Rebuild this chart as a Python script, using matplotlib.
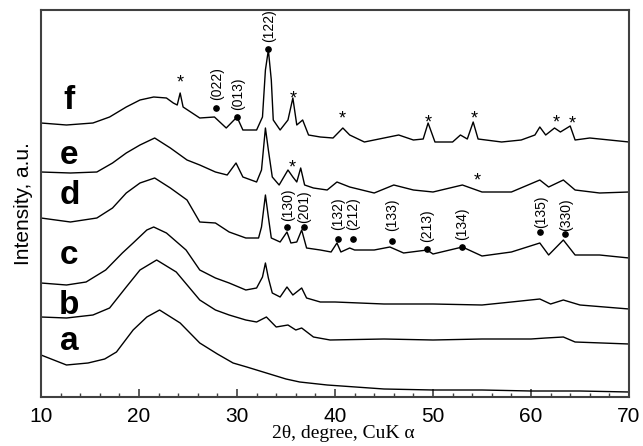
import matplotlib
matplotlib.use("Agg")
import matplotlib.pyplot as plt
from matplotlib.ticker import MultipleLocator

# XRD patterns (intensity in arbitrary units)
tt_a = [10, 12.6, 14.8, 16.5, 17.7, 19.4, 20.8, 22.1, 24.2, 26.2, 28, 29.6, 31, 33, 35,
        36.4, 39.2, 45, 50, 55, 60, 65, 70]
I_a = [42, 32, 34, 38, 45, 67, 80, 87, 74, 54, 43, 34, 30, 24, 18,
       15, 12, 8, 7, 7, 6, 6, 5]

tt_b = [10, 12.6, 15.3, 17.0, 18.7, 20.1, 21.8, 23.8, 26.2, 27.8, 29.2, 30.9, 32.0, 33.0,
        34.0, 35.2, 36.0, 36.6, 37.8, 39.5, 45, 50, 55, 60, 61.5, 63.3, 64.5, 70]
I_b = [80, 79, 82, 89, 110, 127, 137, 125, 97, 87, 82, 77, 75, 80,
       70, 72, 67, 69, 60, 57, 58, 57, 58, 58, 59, 60, 55, 53]

tt_c = [10, 12.6, 14.6, 16.6, 18.3, 19.4, 20.8, 21.5, 22.8, 24.8, 26.2, 27.8, 29.2, 30.9,
        32.0, 32.6, 32.9, 33.2, 33.6, 34.4, 35.1, 35.7, 36.6, 37.1, 38.5, 40, 45, 50, 55,
        58, 60.9, 62, 63.3, 65, 70]
I_c = [114, 112, 115, 127, 144, 154, 167, 170, 164, 147, 127, 119, 114, 107,
       109, 120, 134, 119, 104, 100, 110, 102, 109, 99, 95, 95, 93, 93, 92,
       95, 98, 93, 97, 92, 88]

tt_d = [10, 13, 15.7, 17.3, 18.7, 20.1, 21.6, 23.2, 24.9, 26.2, 27.8, 29.2, 30.9, 32.2,
        32.5, 32.9, 33.2, 33.5, 34.4, 35.1, 35.5, 36.1, 36.6, 37.1, 38.5, 39.6, 40.2, 40.6,
        41.5, 42, 44, 45.6, 47, 49.4, 50, 53, 55, 58, 60.9, 61.8, 63.3, 64.5, 67, 70]
I_d = [179, 175, 179, 189, 204, 214, 219, 209, 197, 175, 174, 165, 159, 159,
       170, 202, 180, 159, 155, 165, 154, 155, 167, 149, 147, 145, 154, 145,
       149, 147, 147, 150, 144, 147, 143, 150, 141, 145, 154, 142, 157, 142, 142, 139]

tt_e = [10, 13, 15.7, 17.3, 18.7, 20.1, 21.6, 23.2, 24.9, 26.2, 27.8, 29.0, 29.9, 30.6,
        32.0, 32.5, 32.9, 33.2, 33.6, 34.3, 35.2, 35.7, 36.1, 36.5, 36.9, 37.8, 39.2, 40.2,
        41.5, 44, 46, 48, 50, 53, 55, 58, 60.9, 61.8, 63.3, 64.5, 67, 70]
I_e = [225, 224, 225, 234, 244, 252, 259, 249, 237, 232, 225, 222, 234, 220,
       215, 227, 269, 247, 220, 212, 227, 220, 215, 229, 212, 209, 207, 215,
       210, 204, 212, 207, 205, 212, 205, 205, 217, 210, 217, 207, 204, 205]

tt_f = [10, 12.6, 15.3, 17.0, 18.7, 20.1, 21.5, 22.8, 23.5, 23.9, 24.2, 24.5, 26.2, 27.7,
        28.9, 30.0, 30.6, 32.0, 32.6, 32.9, 33.2, 33.5, 33.7, 34.4, 35.2, 35.7, 36.1, 36.7,
        37.3, 38.5, 39.8, 40.8, 41.5, 43, 45, 46.5, 48, 49.0, 49.5, 50.2, 52, 52.8, 53.5,
        54.1, 54.6, 57, 59, 60.4, 60.9, 61.5, 62.4, 63, 63.5, 64.0, 64.5, 66, 68, 70]
I_f = [274, 272, 274, 280, 290, 297, 300, 299, 294, 292, 304, 290, 279, 280,
       269, 280, 267, 267, 280, 327, 347, 317, 277, 267, 277, 299, 272, 277,
       262, 260, 259, 269, 262, 255, 259, 262, 257, 258, 274, 255, 255, 262, 258,
       275, 258, 255, 257, 262, 270, 262, 269, 265, 268, 271, 257, 259, 257, 255]

# curve names and where they sit
names = ["a", "b", "c", "d", "e", "f"]
name_y = [56, 91, 141, 202, 242, 297]

# indexed reflections: dot position and label position
hkl = ["(022)", "(013)", "(122)", "(130)", "(201)", "(132)", "(212)", "(133)",
       "(213)", "(134)", "(135)", "(330)"]
dot_x = [27.86, 30.0, 33.2, 35.13, 36.87, 40.27, 41.87, 45.78, 49.35, 52.93, 60.92, 63.47]
dot_y = [289, 280, 348, 170, 170, 158, 158, 156, 148, 150, 165, 163]
lab_x = [27.96, 30.1, 33.27, 35.2, 36.9, 40.3, 41.9, 45.8, 49.4, 52.96, 61.0, 63.6]
lab_y = [313, 303, 371, 192, 190, 183, 183, 182, 171, 173, 185, 182]

# asterisk marks (other phase)
star_x = [24.2, 35.7, 40.7, 49.5, 54.2, 62.6, 64.2, 35.6, 54.5]
star_y = [320, 304, 284, 280, 284, 280, 279, 235, 222]

fig = plt.figure(figsize=(6.43, 4.46), dpi=100)
ax = fig.add_axes([41 / 643, 49 / 446, 588 / 643, 387 / 446])

for tt, I in [(tt_a, I_a), (tt_b, I_b), (tt_c, I_c), (tt_d, I_d), (tt_e, I_e), (tt_f, I_f)]:
    ax.plot(tt, I, color="black", lw=1.0)

for n, y in zip(names, name_y):
    ax.text(12.9, y, n, fontsize=24, fontweight="bold", family="Liberation Sans",
            ha="center", va="center")

ax.plot(dot_x, dot_y, "o", color="black", ms=3.8, ls="none")
for t, x, y in zip(hkl, lab_x, lab_y):
    ax.text(x, y, t, rotation=90, fontsize=10, family="Liberation Sans",
            ha="center", va="center")

# asterisk glyph sits high in the em box, so shift the baseline down
for x, y in zip(star_x, star_y):
    ax.text(x, y - 10, "*", fontsize=13, family="Liberation Sans",
            ha="center", va="baseline")

ax.set_xlim(10, 70)
ax.set_ylim(0, 387)
ax.xaxis.set_major_locator(MultipleLocator(10))
ax.xaxis.set_minor_locator(MultipleLocator(2))
ax.tick_params(axis="x", which="both", direction="in", top=False, pad=7,
               labelsize=15, color="#404040")
ax.tick_params(axis="x", which="major", length=6, width=1.2)
ax.tick_params(axis="x", which="minor", length=3, width=1.0)
ax.set_yticks([])
for lab in ax.get_xticklabels():
    lab.set_family("Liberation Sans")
for s in ax.spines.values():
    s.set_color("#404040")
    s.set_linewidth(1.5)

ax.set_xlabel("2θ, degree, CuK α", family="Liberation Serif", fontsize=14)
ax.xaxis.set_label_coords(0.514, -0.072)
ax.set_ylabel("Intensity, a.u.", family="Liberation Sans", fontsize=15, labelpad=6)

fig.savefig("out.png", dpi=100)
